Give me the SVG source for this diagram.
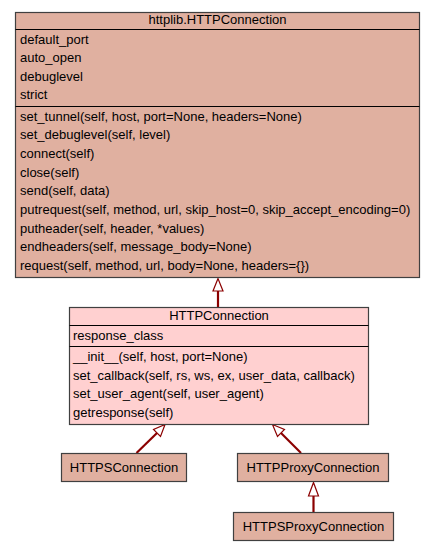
<svg xmlns="http://www.w3.org/2000/svg" width="435" height="552" viewBox="0 0 435 552">
  <style>
    .box { stroke: #404040; stroke-width: 1.2; }
    .base { fill: #e0b0a0; }
    .cur { fill: #ffd0d0; }
    .sep { stroke: #000000; stroke-width: 1.2; }
    text { font-family: "Liberation Sans", Arial, sans-serif; font-size: 13px; fill: #000000; }
    .c { text-anchor: middle; }
    .edge { stroke: #8b0000; stroke-width: 2.2; fill: none; }
    .head { stroke: #8b0000; stroke-width: 1.2; fill: #ffffff; }
  </style>
  <rect width="435" height="552" fill="#ffffff"/>

  <!-- inheritance connectors -->
  <g id="connectors">
    <line class="edge" x1="218" y1="307.5" x2="218" y2="291"/>
    <polygon class="head" points="218,278.5 213,291 223,291"/>

    <line class="edge" x1="136.5" y1="453" x2="157" y2="433"/>
    <polygon class="head" points="165,424.5 153.5,429.5 160.5,436.5"/>

    <line class="edge" x1="301" y1="453" x2="281" y2="433"/>
    <polygon class="head" points="272.5,424.5 277.5,436.5 284.5,429.5"/>

    <line class="edge" x1="313.5" y1="512.5" x2="313.5" y2="496"/>
    <polygon class="head" points="313.5,482.5 308.5,496 318.5,496"/>
  </g>

  <!-- httplib.HTTPConnection -->
  <g id="httplib_HTTPConnection">
    <rect class="box base" x="15.5" y="12.5" width="404" height="265"/>
    <line class="sep" x1="15.5" y1="29.5" x2="419.5" y2="29.5"/>
    <line class="sep" x1="15.5" y1="106.5" x2="419.5" y2="106.5"/>
    <text class="c" x="217.5" y="24">httplib.HTTPConnection</text>
    <text x="20" y="43.5">default_port</text>
    <text x="20" y="62">auto_open</text>
    <text x="20" y="80.5">debuglevel</text>
    <text x="20" y="99">strict</text>
    <text x="20" y="120.5">set_tunnel(self, host, port=None, headers=None)</text>
    <text x="20" y="139">set_debuglevel(self, level)</text>
    <text x="20" y="157.5">connect(self)</text>
    <text x="20" y="176.5">close(self)</text>
    <text x="20" y="195">send(self, data)</text>
    <text x="20" y="213.5">putrequest(self, method, url, skip_host=0, skip_accept_encoding=0)</text>
    <text x="20" y="232.5">putheader(self, header, *values)</text>
    <text x="20" y="251">endheaders(self, message_body=None)</text>
    <text x="20" y="269.5">request(self, method, url, body=None, headers={})</text>
  </g>

  <!-- HTTPConnection -->
  <g id="HTTPConnection">
    <rect class="box cur" x="69.5" y="307.5" width="299" height="117"/>
    <line class="sep" x1="69.5" y1="325.5" x2="368.5" y2="325.5"/>
    <line class="sep" x1="69.5" y1="346.5" x2="368.5" y2="346.5"/>
    <text class="c" x="219" y="319.5">HTTPConnection</text>
    <text x="73" y="339.5">response_class</text>
    <text x="73" y="361">__init__(self, host, port=None)</text>
    <text x="73" y="379.5">set_callback(self, rs, ws, ex, user_data, callback)</text>
    <text x="73" y="398">set_user_agent(self, user_agent)</text>
    <text x="73" y="416.5">getresponse(self)</text>
  </g>

  <!-- HTTPSConnection -->
  <g id="HTTPSConnection">
    <rect class="box base" x="61.5" y="453.5" width="125" height="28"/>
    <text class="c" x="124" y="472">HTTPSConnection</text>
  </g>

  <!-- HTTPProxyConnection -->
  <g id="HTTPProxyConnection">
    <rect class="box base" x="237.5" y="453.5" width="151" height="28"/>
    <text class="c" x="313" y="472">HTTPProxyConnection</text>
  </g>

  <!-- HTTPSProxyConnection -->
  <g id="HTTPSProxyConnection">
    <rect class="box base" x="233.5" y="512.5" width="160" height="28"/>
    <text class="c" x="313.5" y="531">HTTPSProxyConnection</text>
  </g>
</svg>
